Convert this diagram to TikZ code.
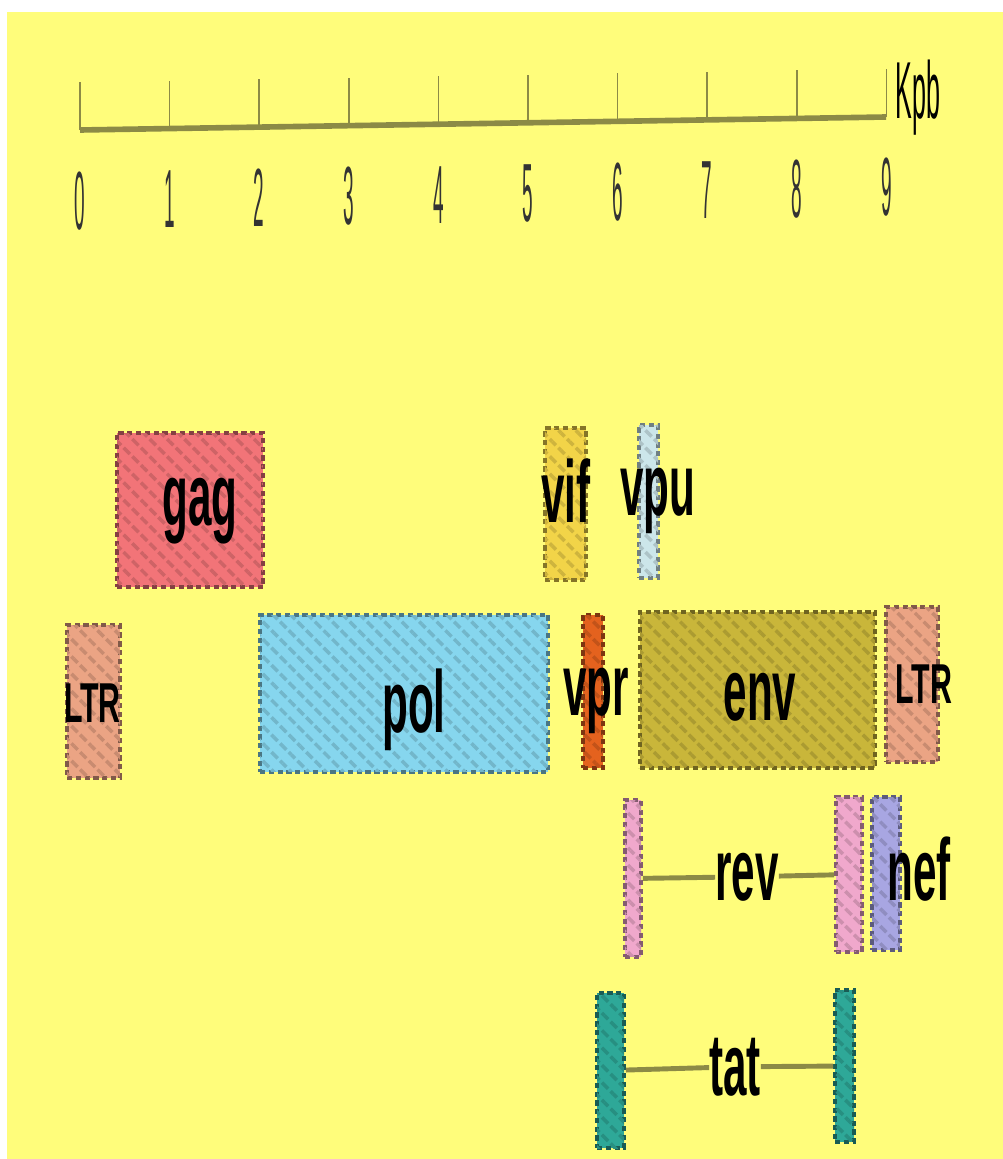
\documentclass[tikz,border=0pt]{standalone}
\usepackage{fontspec}
\setmainfont{Liberation Sans}
\usepackage{xcolor}
\usetikzlibrary{patterns.meta}
\definecolor{paper}{HTML}{FFFD7B}
\definecolor{rulecol}{HTML}{8C8A46}
\definecolor{gagcol}{HTML}{F27478}
\definecolor{ltrcol}{HTML}{EBA484}
\definecolor{polcol}{HTML}{86D6EE}
\definecolor{vifcol}{HTML}{F2D448}
\definecolor{vpucol}{HTML}{CCE6EA}
\definecolor{vprcol}{HTML}{E4621E}
\definecolor{envcol}{HTML}{C9B63A}
\definecolor{revcol}{HTML}{F0A8CC}
\definecolor{nefcol}{HTML}{A8A6E2}
\definecolor{tatcol}{HTML}{2EA898}
\newcommand\genefont{\bfseries\fontsize{50}{50}\selectfont}
\newcommand\ltrfont{\bfseries\fontsize{32}{32}\selectfont}
\newcommand\digitfont{\fontsize{47}{47}\selectfont}
\newcommand\kpbfont{\fontsize{46}{46}\selectfont}
\tikzset{gene/.style={rectangle, inner sep=0pt, fill=#1, draw=#1!55!black,
   line width=2.2pt, densely dashed,
   postaction={pattern color=#1!85!black, pattern={Lines[angle=-45,distance=7pt,line width=2pt]}}},
 lbl/.style={font=\genefont, xscale=0.48, anchor=base, inner sep=0pt},
 ltr/.style={font=\ltrfont, xscale=0.54, anchor=base, inner sep=0pt},
 digit/.style={font=\digitfont, xscale=0.23, anchor=base, inner sep=0pt, text=black!80},
 joiner/.style={draw=rulecol, line width=2.8pt},
}

\begin{document}
\begin{tikzpicture}[x=0.02cm, y=-0.02cm]
        \fill[white] (0,0) rectangle (1003,1159);
        \fill[paper] (7,12) rectangle (1003,1159);
        \useasboundingbox (0,0) rectangle (1003,1159);
        \draw[rulecol, line width=3.2pt] (80,130) -- (886,117);
        \foreach \i in {0,...,9}{
            \draw[rulecol, line width=1pt] ({80+89.6*\i},{130-1.45*\i}) -- ++(0,-48);
            \node[digit] (d\i) at ({80+89.6*\i},{229-1.45*\i}) {\i};
        }
        \node[font=\kpbfont, xscale=0.31, anchor=base, inner sep=0pt] (unit) at (918,118) {Kpb};
        \node[gene=gagcol, minimum width=2.92cm, minimum height=3.08cm] (gag) at (190,510) {};
        \node[gene=ltrcol, minimum width=1.06cm, minimum height=3.06cm] (ltrA) at (93.5,701.5) {};
        \node[gene=polcol, minimum width=5.76cm, minimum height=3.14cm] (pol) at (404,693.5) {};
        \node[gene=vifcol, minimum width=0.82cm, minimum height=3.04cm] (vif) at (565.5,504) {};
        \node[gene=vpucol, minimum width=0.38cm, minimum height=3.06cm] (vpu) at (648.5,501.5) {};
        \node[gene=vprcol, minimum width=0.40cm, minimum height=3.06cm] (vpr) at (593,691.5) {};
        \node[gene=envcol, minimum width=4.70cm, minimum height=3.12cm] (env) at (757.5,690) {};
        \node[gene=ltrcol, minimum width=1.04cm, minimum height=3.10cm] (ltrB) at (912,684.5) {};
        \node[gene=revcol, minimum width=0.32cm, minimum height=3.14cm] (revA) at (633,878.5) {};
        \node[gene=revcol, minimum width=0.52cm, minimum height=3.10cm] (revB) at (849,874.5) {};
        \node[gene=nefcol, minimum width=0.56cm, minimum height=3.06cm] (nef) at (886,873.5) {};
        \node[gene=tatcol, minimum width=0.54cm, minimum height=3.10cm] (tatA) at (610.5,1070.5) {};
        \node[gene=tatcol, minimum width=0.38cm, minimum height=3.04cm] (tatB) at (844.5,1066) {};
        \node[lbl] (gagtxt) at (200,525) {gag};
        \node[lbl] (poltxt) at (414,732) {pol};
        \node[lbl] (envtxt) at (760,720) {env};
        \node[lbl] (viftxt) at (566,522) {vif};
        \node[lbl] (vputxt) at (658,515) {vpu};
        \node[lbl] (vprtxt) at (596,715) {vpr};
        \node[lbl] (reftxt) at (747,900) {rev};
        \node[lbl] (neftxt) at (919,900) {nef};
        \node[lbl] (tattxt) at (735,1095) {tat};
        \node[ltr] (ltrtxtA) at (92.5,722) {LTR};
        \node[ltr] (ltrtxtB) at (924,703) {LTR};
        \draw[joiner] (revA) -- (reftxt) -- (revB);
        \draw[joiner] (tatA) -- (tattxt) -- (tatB);
    \end{tikzpicture}
\end{document}
